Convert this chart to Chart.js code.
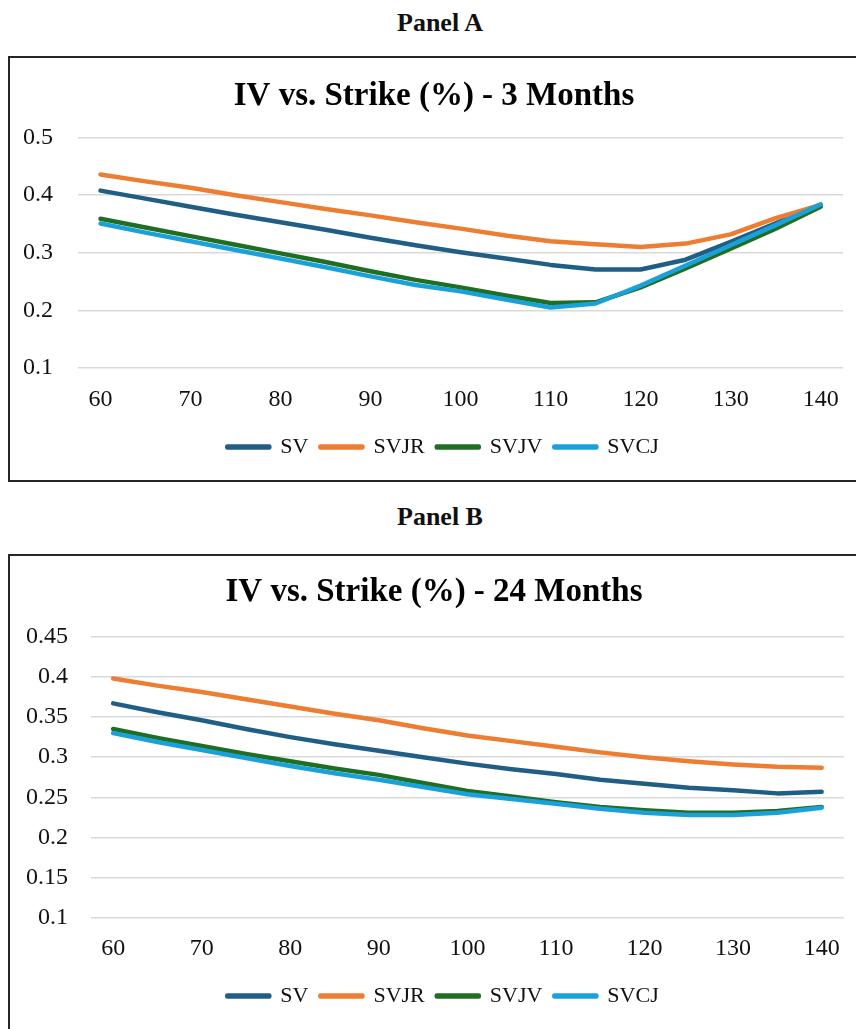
<!DOCTYPE html>
<html>
<head>
<meta charset="utf-8">
<script src="https://cdn.jsdelivr.net/npm/chart.js@4.4.1/dist/chart.umd.min.js"></script>
<style>
  body { margin: 0; background: #fff; width: 856px; height: 1029px; overflow: hidden; position: relative; font-family: "Liberation Serif", serif; }
  .panelLabel { position: absolute; left: 0; width: 880px; text-align: center; font-weight: bold; font-size: 26px; color: #111; }
  .box { position: absolute; left: 8px; width: 860px; border: 2px solid #262626; }
  .box canvas { position: absolute; left: 0; top: 0; }
</style>
</head>
<body>
<div class="panelLabel" style="top: 8px;">Panel A</div>
<div class="box" style="top: 56px; height: 422px;"><canvas id="chartA" width="846" height="421"></canvas></div>
<div class="panelLabel" style="top: 502px;">Panel B</div>
<div class="box" style="top: 554px; height: 500px;"><canvas id="chartB" width="846" height="473"></canvas></div>

<script>
// strikes (%) - every 5, labels shown every 10
const strikes = [60, 65, 70, 75, 80, 85, 90, 95, 100, 105, 110, 115, 120, 125, 130, 135, 140];
const seriesNames = ['SV', 'SVJR', 'SVJV', 'SVCJ'];
const seriesColors = ['#215E86', '#ED7D31', '#1F6E22', '#1BA1DA'];

// Panel A - 3 months
const sv3 = [0.408, 0.394, 0.380, 0.366, 0.353, 0.340, 0.326, 0.313, 0.301, 0.290, 0.279, 0.271, 0.271, 0.288, 0.319, 0.351, 0.383];
const svjr3 = [0.436, 0.424, 0.413, 0.400, 0.388, 0.376, 0.365, 0.353, 0.342, 0.330, 0.320, 0.315, 0.310, 0.316, 0.332, 0.360, 0.383];
const svjv3 = [0.359, 0.344, 0.329, 0.314, 0.299, 0.284, 0.268, 0.253, 0.240, 0.226, 0.213, 0.214, 0.240, 0.273, 0.307, 0.342, 0.380];
const svcj3 = [0.351, 0.335, 0.320, 0.305, 0.290, 0.275, 0.259, 0.244, 0.233, 0.219, 0.205, 0.212, 0.243, 0.278, 0.313, 0.348, 0.384];

// Panel B - 24 months
const sv24 = [0.367, 0.356, 0.346, 0.335, 0.325, 0.316, 0.308, 0.300, 0.292, 0.285, 0.279, 0.272, 0.267, 0.262, 0.259, 0.255, 0.257];
const svjr24 = [0.398, 0.389, 0.381, 0.372, 0.363, 0.354, 0.346, 0.336, 0.327, 0.320, 0.313, 0.306, 0.300, 0.295, 0.291, 0.288, 0.287];
const svjv24 = [0.335, 0.324, 0.314, 0.304, 0.295, 0.286, 0.278, 0.268, 0.258, 0.251, 0.244, 0.238, 0.234, 0.231, 0.231, 0.233, 0.238];
const svcj24 = [0.330, 0.319, 0.309, 0.299, 0.289, 0.280, 0.272, 0.263, 0.254, 0.248, 0.242, 0.236, 0.231, 0.228, 0.228, 0.231, 0.237];

const FONT = '"Liberation Serif", "Times New Roman", serif';

// nudge title and legend a little right of the plot centre, as in the original
const nudgePlugin = {
  id: 'nudge',
  afterLayout(chart) {
    if (chart.titleBlock) { chart.titleBlock.left += 7; chart.titleBlock.right += 7; }
    if (chart.legend) { chart.legend.left += 16; chart.legend.right += 16; }
  }
};

function buildChart(id, title, values, yMin, yMax, yStep, sz) {
  const ctx = document.getElementById(id).getContext('2d');

  // later series sit on top (like the original), legend keeps SV first
  const datasets = values.map((data, i) => ({
    label: seriesNames[i],
    data: data,
    borderColor: seriesColors[i],
    backgroundColor: seriesColors[i],
    borderWidth: 4.5,
    borderCapStyle: 'round',
    borderJoinStyle: 'round',
    pointRadius: 0,
    tension: 0,
    order: values.length - i
  }));

  return new Chart(ctx, {
    type: 'line',
    data: { labels: strikes, datasets: datasets },
    plugins: [nudgePlugin],
    options: {
      responsive: false,
      animation: false,
      layout: { padding: { left: 0, right: 12, top: 0, bottom: sz.padBottom } },
      plugins: {
        title: {
          display: true,
          text: title,
          color: '#000',
          font: { family: FONT, size: 33, weight: 'bold' },
          padding: { top: sz.titleTop, bottom: sz.titleBottom }
        },
        legend: {
          position: 'bottom',
          reverse: true,
          labels: {
            color: '#111',
            font: { family: FONT, size: 22 },
            boxWidth: 42,
            boxHeight: 1,
            padding: 12
          }
        },
        tooltip: { enabled: false }
      },
      scales: {
        x: {
          offset: true,
          grid: { display: false, drawTicks: false },
          border: { display: false },
          ticks: {
            autoSkip: false,
            maxRotation: 0,
            padding: sz.xPad,
            color: '#111',
            font: { family: FONT, size: 24 },
            callback: function (val, i) {
              return i % 2 === 0 ? this.getLabelForValue(val) : '';
            }
          },
          afterFit: (scale) => { scale.height = sz.xHeight; }
        },
        y: {
          min: yMin,
          max: yMax,
          grid: { color: '#d9d9d9', lineWidth: 1.5, drawTicks: false },
          border: { display: false },
          ticks: {
            stepSize: yStep,
            padding: sz.yPad,
            color: '#111',
            font: { family: FONT, size: 24 },
            callback: (v) => String(+v.toFixed(2))
          },
          afterFit: (scale) => { scale.width = sz.yWidth; }
        }
      }
    }
  });
}

buildChart('chartA', 'IV vs. Strike (%) - 3 Months', [sv3, svjr3, svjv3, svcj3], 0.1, 0.5, 0.1,
  { titleTop: 19, titleBottom: 21, xPad: 17, xHeight: 56, padBottom: 11, yPad: 25, yWidth: 68 });

buildChart('chartB', 'IV vs. Strike (%) - 24 Months', [sv24, svjr24, svjv24, svcj24], 0.1, 0.45, 0.05,
  { titleTop: 17, titleBottom: 24, xPad: 16, xHeight: 55, padBottom: 12, yPad: 23, yWidth: 81 });
</script>
</body>
</html>
